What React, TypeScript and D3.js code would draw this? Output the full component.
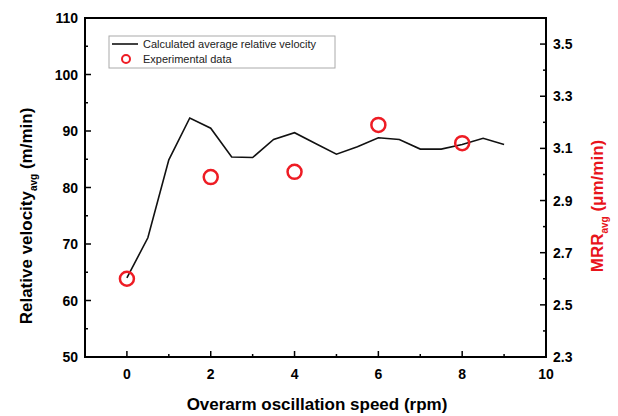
import React from 'react';
import * as d3 from 'd3';

// calculated average relative velocity (m/min) vs speed (rpm)
const calcSpeed = [0, 0.5, 1, 1.5, 2, 2.5, 3, 3.5, 4, 4.5, 5, 5.5, 6, 6.5, 7, 7.5, 8, 8.5, 9];
const calcVelocity = [64, 71.1, 84.9, 92.3, 90.5, 85.4, 85.3, 88.5, 89.7, 87.8, 85.9, 87.2, 88.8, 88.5, 86.8, 86.8, 87.6, 88.7, 87.6];

// experimental MRR (um/min)
const expSpeed = [0, 2, 4, 6, 8];
const expMRR = [2.6, 2.99, 3.01, 3.19, 3.12];

const xTicks = [0, 2, 4, 6, 8, 10];
const yLeftTicks = [50, 60, 70, 80, 90, 100, 110];
const yRightTicks = [2.3, 2.5, 2.7, 2.9, 3.1, 3.3, 3.5];

const W = 618, H = 416;
const m = { l: 85, r: 72, t: 18, b: 59 };
const font = 'Arial, "Liberation Sans", sans-serif';

export default function App() {
  const x = d3.scaleLinear().domain([-1, 10]).range([m.l, W - m.r]);
  const yL = d3.scaleLinear().domain([50, 110]).range([H - m.b, m.t]);
  const yR = d3.scaleLinear().domain([2.3, 3.6]).range([H - m.b, m.t]);

  const line = d3.line<number>()
    .x((_, i) => x(calcSpeed[i]))
    .y(d => yL(d));

  const bottom = H - m.b, right = W - m.r;
  const xMinor = d3.range(-1, 10, 1).filter(v => v % 2 !== 0);
  const yLMinor = d3.range(55, 110, 10);
  const yRMinor = [2.4, 2.6, 2.8, 3.0, 3.2, 3.4, 3.6];

  return (
    <svg width={W} height={H} style={{ position: 'absolute', left: 0, top: 0, background: '#fff' }}
      fontFamily={font}>
      {/* frame */}
      <rect x={m.l} y={m.t} width={right - m.l} height={bottom - m.t} fill="none" stroke="#000" strokeWidth={2} />

      {/* x ticks */}
      {xTicks.map(t => (
        <g key={'x' + t}>
          <line x1={x(t)} x2={x(t)} y1={bottom} y2={bottom - 6} stroke="#000" strokeWidth={1.5} />
          <text x={x(t)} y={bottom + 22} textAnchor="middle" fontSize={14} fontWeight="bold">{t}</text>
        </g>
      ))}
      {xMinor.map(t => (
        <line key={'xm' + t} x1={x(t)} x2={x(t)} y1={bottom} y2={bottom - 3} stroke="#000" strokeWidth={1.5} />
      ))}

      {/* left axis */}
      {yLeftTicks.map(t => (
        <g key={'yl' + t}>
          <line x1={m.l} x2={m.l + 6} y1={yL(t)} y2={yL(t)} stroke="#000" strokeWidth={1.5} />
          <text x={m.l - 7} y={yL(t) + 5} textAnchor="end" fontSize={14} fontWeight="bold">{t}</text>
        </g>
      ))}
      {yLMinor.map(t => (
        <line key={'ylm' + t} x1={m.l} x2={m.l + 3} y1={yL(t)} y2={yL(t)} stroke="#000" strokeWidth={1.5} />
      ))}

      {/* right axis */}
      {yRightTicks.map(t => (
        <g key={'yr' + t}>
          <line x1={right} x2={right - 6} y1={yR(t)} y2={yR(t)} stroke="#000" strokeWidth={1.5} />
          <text x={right + 7} y={yR(t) + 5} textAnchor="start" fontSize={14} fontWeight="bold">{t.toFixed(1)}</text>
        </g>
      ))}
      {yRMinor.map(t => (
        <line key={'yrm' + t} x1={right} x2={right - 3} y1={yR(t)} y2={yR(t)} stroke="#000" strokeWidth={1.5} />
      ))}

      {/* axis titles */}
      <text x={317} y={H - 6} textAnchor="middle" fontSize={17} fontWeight="bold">Overarm oscillation speed (rpm)</text>
      <text transform={`translate(32,216) rotate(-90)`} textAnchor="middle" fontSize={17} fontWeight="bold">
        Relative velocity<tspan fontSize={10} dy={5}>avg</tspan><tspan dy={-5}> (m/min)</tspan>
      </text>
      <text transform={`translate(603,206) rotate(-90)`} textAnchor="middle" fontSize={17} fontWeight="bold" fill="#e8141b">
        MRR<tspan fontSize={10} dy={5}>avg</tspan><tspan dy={-5}> (μm/min)</tspan>
      </text>

      {/* calculated line */}
      <path d={line(calcVelocity) || ''} fill="none" stroke="#111" strokeWidth={1.6} />

      {/* experimental points */}
      {expMRR.map((v, i) => (
        <circle key={'e' + i} cx={x(expSpeed[i])} cy={yR(v)} r={7} fill="none" stroke="#ee1c24" strokeWidth={2.5} />
      ))}

      {/* legend */}
      <g>
        <rect x={109} y={36} width={226} height={32} fill="#fff" stroke="#aaa" strokeWidth={1} />
        <line x1={112} x2={138} y1={44} y2={44} stroke="#111" strokeWidth={1.6} />
        <text x={143} y={48} fontSize={11} fill="#222">Calculated average relative velocity</text>
        <circle cx={126} cy={59} r={4} fill="none" stroke="#ee1c24" strokeWidth={2} />
        <text x={143} y={63} fontSize={11} fill="#222">Experimental data</text>
      </g>
    </svg>
  );
}
